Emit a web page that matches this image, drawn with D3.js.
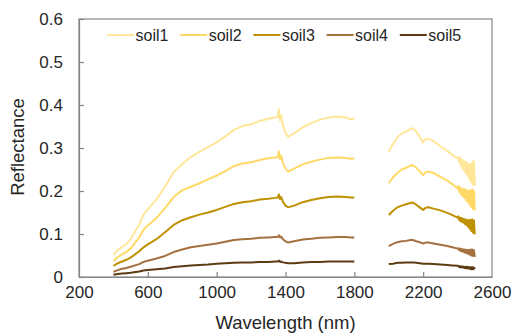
<!DOCTYPE html>
<html><head><meta charset="utf-8">
<script src="https://cdn.jsdelivr.net/npm/d3@7"></script>
<style>
body{margin:0;background:#fff;}
svg{display:block;font-family:"Liberation Sans",Arial,sans-serif;}
</style></head>
<body><svg id="c" width="514" height="334"></svg>
<script>
const seriesNames = ["soil1","soil2","soil3","soil4","soil5"];
const colors = ["#FFE699","#FFD966","#BF9000","#A5703F","#5C3B12"];
const xTicks = [200,600,1000,1400,1800,2200,2600];
const yTicks = [0,0.1,0.2,0.3,0.4,0.5,0.6];
const yTickLabels = ["0","0.1","0.2","0.3","0.4","0.5","0.6"];

const wl1 = [400,425,450,475,500,550,575,600,650,700,750,800,850,900,950,1000,1050,1100,1150,1200,1250,1300,1340,1355,1362,1368,1375,1385,1400,1415,1450,1500,1550,1600,1650,1700,1750,1780,1800];
const wl2 = [2000,2025,2050,2075,2100,2125,2140,2160,2180,2200,2215,2230,2260,2300,2340,2370,2400,2405,2410,2415,2420,2425,2430,2435,2440,2445,2450,2455,2460,2465,2470,2475,2480,2485,2490,2495,2500];

const soil1a = [0.051,0.062,0.070,0.076,0.088,0.122,0.145,0.158,0.180,0.210,0.244,0.263,0.279,0.291,0.302,0.313,0.327,0.342,0.351,0.355,0.363,0.368,0.371,0.372,0.390,0.364,0.376,0.352,0.336,0.326,0.334,0.348,0.358,0.366,0.371,0.373,0.371,0.367,0.368];
const soil2a = [0.037,0.046,0.053,0.058,0.066,0.092,0.110,0.120,0.137,0.160,0.186,0.202,0.210,0.218,0.227,0.236,0.246,0.258,0.264,0.267,0.272,0.276,0.278,0.279,0.292,0.274,0.282,0.265,0.252,0.245,0.252,0.262,0.268,0.273,0.277,0.278,0.277,0.275,0.276];
const soil3a = [0.026,0.032,0.036,0.040,0.045,0.060,0.069,0.076,0.088,0.104,0.121,0.132,0.139,0.145,0.150,0.156,0.163,0.170,0.174,0.176,0.180,0.182,0.184,0.185,0.192,0.181,0.186,0.175,0.166,0.162,0.166,0.174,0.179,0.183,0.186,0.187,0.186,0.185,0.185];
const soil4a = [0.012,0.016,0.019,0.021,0.024,0.030,0.035,0.038,0.043,0.049,0.058,0.064,0.069,0.072,0.075,0.078,0.082,0.086,0.088,0.089,0.091,0.092,0.093,0.093,0.097,0.092,0.094,0.088,0.083,0.080,0.083,0.087,0.089,0.091,0.092,0.093,0.093,0.092,0.092];
const soil5a = [0.005,0.007,0.008,0.009,0.010,0.013,0.015,0.016,0.018,0.020,0.023,0.025,0.027,0.028,0.029,0.031,0.032,0.033,0.034,0.034,0.035,0.035,0.036,0.036,0.038,0.035,0.036,0.034,0.033,0.032,0.032,0.034,0.035,0.035,0.036,0.036,0.036,0.036,0.036];

const soil1b = [0.291,0.310,0.325,0.334,0.338,0.344,0.346,0.338,0.326,0.313,0.321,0.322,0.316,0.304,0.293,0.284,0.276,0.280,0.266,0.276,0.258,0.274,0.252,0.270,0.246,0.268,0.240,0.266,0.234,0.262,0.226,0.262,0.220,0.266,0.214,0.270,0.212];
const soil2b = [0.218,0.232,0.242,0.250,0.254,0.259,0.260,0.254,0.246,0.237,0.244,0.245,0.242,0.233,0.224,0.216,0.206,0.212,0.198,0.208,0.192,0.206,0.188,0.204,0.184,0.204,0.178,0.202,0.174,0.200,0.168,0.202,0.162,0.204,0.158,0.200,0.155];
const soil3b = [0.144,0.154,0.162,0.166,0.169,0.172,0.173,0.168,0.162,0.156,0.161,0.162,0.159,0.155,0.149,0.144,0.138,0.141,0.132,0.138,0.129,0.137,0.127,0.135,0.124,0.134,0.121,0.133,0.117,0.132,0.112,0.133,0.107,0.134,0.103,0.132,0.099];
const soil4b = [0.072,0.077,0.081,0.083,0.084,0.086,0.086,0.083,0.081,0.078,0.080,0.080,0.078,0.075,0.072,0.069,0.066,0.067,0.062,0.066,0.060,0.065,0.059,0.064,0.057,0.064,0.056,0.063,0.054,0.063,0.052,0.064,0.050,0.064,0.049,0.062,0.047];
const soil5b = [0.030,0.031,0.033,0.033,0.034,0.034,0.034,0.033,0.032,0.031,0.031,0.031,0.030,0.029,0.028,0.027,0.026,0.026,0.023,0.025,0.022,0.025,0.022,0.024,0.021,0.024,0.020,0.024,0.020,0.023,0.019,0.023,0.018,0.023,0.018,0.022,0.018];

const segA = [soil1a,soil2a,soil3a,soil4a,soil5a];
const segB = [soil1b,soil2b,soil3b,soil4b,soil5b];

const svg = d3.select("#c");
const L = 79, R = 492, T = 19, B = 277;
const x = d3.scaleLinear().domain([200,2600]).range([L,R]);
const y = d3.scaleLinear().domain([0,0.6]).range([B,T]);
const textColor = "#262626", axisColor = "#868686";

svg.append("rect").attr("x",L).attr("y",T).attr("width",R-L).attr("height",B-T)
  .attr("fill","none").attr("stroke",axisColor).attr("stroke-width",1.2);

const gx = svg.append("g").attr("transform",`translate(0,${B})`)
  .call(d3.axisBottom(x).tickValues(xTicks).tickSizeInner(-5).tickSizeOuter(0).tickPadding(10).tickFormat(d3.format("d")));
const gy = svg.append("g").attr("transform",`translate(${L},0)`)
  .call(d3.axisLeft(y).tickValues(yTicks).tickSizeInner(-5).tickSizeOuter(0).tickPadding(16).tickFormat((d,i)=>yTickLabels[i]));
[gx,gy].forEach(g=>{
  g.select(".domain").attr("stroke",axisColor).attr("stroke-width",1.2);
  g.selectAll(".tick line").attr("stroke",axisColor).attr("stroke-width",1.2);
  g.selectAll("text").attr("fill",textColor).style("font-size","17px").style("font-family","'Liberation Sans',Arial,sans-serif");
});
gx.selectAll(".tick").filter(d=>d===200||d===2600).select("line").remove();
gx.selectAll("text").attr("dy","0.66em");

const line = d3.line().x(d=>x(d[0])).y(d=>y(d[1]));
seriesNames.forEach((n,i)=>{
  [[wl1,segA[i]],[wl2,segB[i]]].forEach(([w,v])=>{
    svg.append("path").datum(w.map((wv,j)=>[wv,v[j]]))
      .attr("d",line).attr("fill","none").attr("stroke",colors[i])
      .attr("stroke-width",2).attr("stroke-linejoin","round");
  });
});

const leg = svg.append("g");
seriesNames.forEach((n,i)=>{
  const lx = 107 + i*73.2;
  leg.append("line").attr("x1",lx).attr("x2",lx+27).attr("y1",35).attr("y2",35)
    .attr("stroke",colors[i]).attr("stroke-width",2);
  leg.append("text").attr("x",lx+28.5).attr("y",40.5).text(n)
    .attr("fill",textColor).style("font-size","16px");
});

svg.append("text").attr("x",285.5).attr("y",329).attr("text-anchor","middle")
  .attr("fill",textColor).style("font-size","18.5px").text("Wavelength (nm)");
svg.append("text").attr("transform","translate(24,147) rotate(-90)").attr("text-anchor","middle")
  .attr("fill",textColor).style("font-size","18.5px").text("Reflectance");
</script></body></html>
